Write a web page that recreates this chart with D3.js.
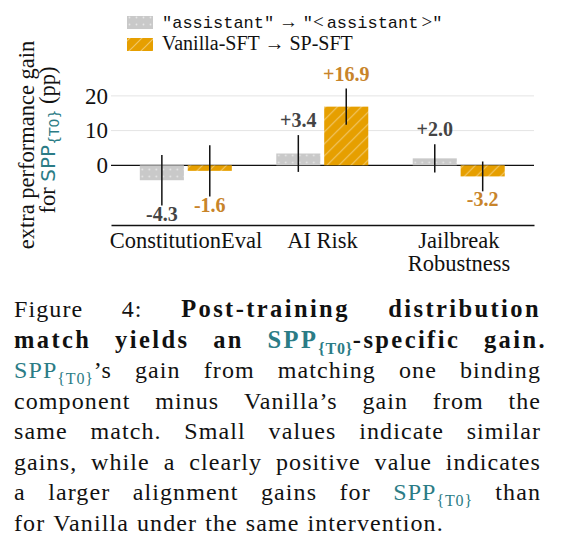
<!DOCTYPE html>
<html>
<head>
<meta charset="utf-8">
<script src="https://cdn.jsdelivr.net/npm/d3@7"></script>
<style>
  body { margin: 0; background: #fff; }
</style>
</head>
<body>
<svg id="chart" width="562" height="544" font-family="Liberation Serif"></svg>
<script>
// chart values
var categories = ["ConstitutionEval", "AI Risk", "Jailbreak Robustness"];
var categoryLines = [["ConstitutionEval"], ["AI Risk"], ["Jailbreak", "Robustness"]];
var seriesKeys = ["template", "sft"];
var templateGain = [-4.3, 3.4, 2.0];
var templateErr = [7.3, 5.3, 4.1];
var sftGain = [-1.6, 16.9, -3.2];
var sftErr = [7.4, 5.2, 4.3];
var yTicks = [0, 10, 20];
var yDomain = [-17.2, 24];

// caption text, "§" marks SPP_{T0}
var captionLines = [
    { words: "Figure 4: Post-training distribution", boldFrom: 2 },
    { words: "match yields an §-specific gain.", boldFrom: 0, right: 547 },
    { words: "§’s gain from matching one binding" },
    { words: "component minus Vanilla’s gain from the" },
    { words: "same match. Small values indicate similar" },
    { words: "gains, while a clearly positive value indicates" },
    { words: "a larger alignment gains for § than" },
    { words: "for Vanilla under the same intervention.", last: true }
];

var serif = "Liberation Serif";
var teal = "#2b7c86";
var grayFill = "#c9c9c9";
var orangeFill = "#e69f00";
var labelColors = { template: "#444444", sft: "#c8842a" };

var svg = d3.select("#chart");

var margin = { top: 82, right: 28, bottom: 319, left: 111 };
var width = 562 - margin.left - margin.right;
var height = 544 - margin.top - margin.bottom;

// patterns
var defs = svg.append("defs");
var dots = defs.append("pattern")
    .attr("id", "dots")
    .attr("patternUnits", "userSpaceOnUse")
    .attr("width", 7).attr("height", 7);
dots.append("rect").attr("width", 7).attr("height", 7).attr("fill", grayFill);
dots.append("circle").attr("cx", 3.5).attr("cy", 3.5).attr("r", 0.9)
    .attr("fill", "#fff").attr("opacity", 0.55);

var hatch = defs.append("pattern")
    .attr("id", "hatch")
    .attr("patternUnits", "userSpaceOnUse")
    .attr("width", 12).attr("height", 12);
hatch.append("rect").attr("width", 12).attr("height", 12).attr("fill", orangeFill);
hatch.append("path")
    .attr("d", "M0,12 L12,0 M-3,3 L3,-3 M9,15 L15,9")
    .attr("stroke", "#fff").attr("stroke-opacity", 0.4).attr("stroke-width", 1.2);

var fills = { template: "url(#dots)", sft: "url(#hatch)" };

// table built from the arrays
var rows = categories.map(function(c, i) {
    return {
        cat: c,
        values: [
            { key: "template", v: templateGain[i], e: templateErr[i] },
            { key: "sft", v: sftGain[i], e: sftErr[i] }
        ]
    };
});

var chartGroup = svg.append("g")
    .attr("transform", `translate(${margin.left}, ${margin.top})`);

// scales
var x0 = d3.scaleBand()
    .domain(categories)
    .range([0, width])
    .paddingInner(0)
    .paddingOuter(0.05);

var x1 = d3.scaleBand()
    .domain(seriesKeys)
    .range([22, 114])
    .paddingInner(0.08);

var yScale = d3.scaleLinear()
    .domain(yDomain)
    .range([height, 0]);

// grid lines
chartGroup.selectAll("line.grid")
    .data(yTicks.filter(function(t) { return t > 0; }))
    .enter()
    .append("line")
    .attr("class", "grid")
    .attr("x1", 0).attr("x2", width)
    .attr("y1", function(d) { return yScale(d); })
    .attr("y2", function(d) { return yScale(d); })
    .attr("stroke", "#e4e4e4")
    .attr("stroke-width", 1);

// zero line
chartGroup.append("line")
    .attr("x1", 0).attr("x2", width)
    .attr("y1", yScale(0)).attr("y2", yScale(0))
    .attr("stroke", "#111")
    .attr("stroke-width", 1.3);

// y axis
var leftAxis = d3.axisLeft(yScale).tickValues(yTicks).tickSize(0).tickPadding(3);
var yAxisG = chartGroup.append("g").call(leftAxis)
    .attr("font-family", serif);
yAxisG.select(".domain").remove();
yAxisG.selectAll("text")
    .attr("font-size", 23)
    .attr("fill", "#111");

// x axis
var bottomAxis = d3.axisBottom(x0).tickSize(0).tickSizeOuter(0);
var xAxisG = chartGroup.append("g")
    .attr("transform", `translate(0, ${height})`)
    .call(bottomAxis)
    .attr("font-family", serif);
xAxisG.select(".domain").attr("stroke", "#111").attr("stroke-width", 1.3);
xAxisG.selectAll(".tick text").each(function(d, i) {
    var t = d3.select(this).attr("y", 0).attr("dy", null)
        .attr("font-size", 22.5)
        .attr("fill", "#111")
        .text(null);
    categoryLines[i].forEach(function(line, j) {
        t.append("tspan").attr("x", 0).attr("y", 23 + j * 23).text(line);
    });
});

// bars
var groups = chartGroup.selectAll("g.group")
    .data(rows)
    .enter()
    .append("g")
    .attr("class", "group")
    .attr("transform", function(d) { return `translate(${x0(d.cat)}, 0)`; });

groups.selectAll("rect")
    .data(function(d) { return d.values; })
    .enter()
    .append("rect")
    .attr("x", function(d) { return x1(d.key); })
    .attr("y", function(d) { return yScale(Math.max(0, d.v)); })
    .attr("width", x1.bandwidth())
    .attr("height", function(d) { return Math.abs(yScale(d.v) - yScale(0)); })
    .attr("fill", function(d) { return fills[d.key]; });

// error bars
groups.selectAll("line.err")
    .data(function(d) { return d.values; })
    .enter()
    .append("line")
    .attr("class", "err")
    .attr("x1", function(d) { return x1(d.key) + x1.bandwidth() / 2; })
    .attr("x2", function(d) { return x1(d.key) + x1.bandwidth() / 2; })
    .attr("y1", function(d) { return yScale(d.v - d.e); })
    .attr("y2", function(d) { return yScale(d.v + d.e); })
    .attr("stroke", "#111")
    .attr("stroke-width", 1.5);

// value labels
function fmt(v) { return (v > 0 ? "+" : "-") + Math.abs(v).toFixed(1); }
groups.selectAll("text.val")
    .data(function(d) { return d.values; })
    .enter()
    .append("text")
    .attr("class", "val")
    .attr("x", function(d) { return x1(d.key) + x1.bandwidth() / 2; })
    .attr("y", function(d) {
        return d.v >= 0 ? yScale(d.v + d.e) - 8 : yScale(d.v - d.e) + 15;
    })
    .attr("text-anchor", "middle")
    .attr("font-family", serif)
    .attr("font-size", 20)
    .attr("font-weight", "bold")
    .attr("fill", function(d) { return labelColors[d.key]; })
    .text(function(d) { return fmt(d.v); });

// y axis title
svg.append("text")
    .attr("transform", "translate(34, 145) rotate(-90)")
    .attr("text-anchor", "middle")
    .attr("font-family", serif)
    .attr("font-size", 22.5)
    .attr("fill", "#111")
    .text("extra performance gain");

var yTitle2 = svg.append("text")
    .attr("transform", "translate(55, 140) rotate(-90)")
    .attr("text-anchor", "middle")
    .attr("font-family", serif)
    .attr("font-size", 22.5)
    .attr("fill", "#111");
yTitle2.append("tspan").text("for ");
yTitle2.append("tspan").attr("fill", teal).attr("font-family", "DejaVu Sans").attr("font-size", 20).text("SPP");
yTitle2.append("tspan").attr("fill", teal).attr("font-family", "DejaVu Sans").attr("font-size", 14).attr("dy", 4).text("{T0}");
yTitle2.append("tspan").attr("dy", -4).text(" (pp)");

// legend
var legend = svg.append("g").attr("font-family", serif);
legend.append("rect").attr("x", 127).attr("y", 16).attr("width", 26).attr("height", 13).attr("fill", "url(#dots)");
legend.append("rect").attr("x", 127).attr("y", 38).attr("width", 26).attr("height", 13).attr("fill", "url(#hatch)");

var leg1 = legend.append("text").attr("x", 162).attr("y", 28).attr("font-size", 17).attr("fill", "#111");
leg1.append("tspan").attr("font-family", "Liberation Mono").text("\"assistant\"");
leg1.append("tspan").attr("font-size", 19).text(" → ");
leg1.append("tspan").attr("font-family", "Liberation Mono").text("\"");
leg1.append("tspan").attr("font-size", 19).text("<");
leg1.append("tspan").attr("font-family", "Liberation Mono").attr("dx", 3).text("assistant");
leg1.append("tspan").attr("font-size", 19).attr("dx", 3).text(">");
leg1.append("tspan").attr("font-family", "Liberation Mono").text("\"");

legend.append("text").attr("x", 162).attr("y", 50).attr("font-size", 20).attr("fill", "#111")
    .text("Vanilla-SFT  →  SP-SFT");

// caption, justified
var capLeft = 14, capRight = 541, capTop = 317, capStep = 30.5;
var caption = svg.append("g").attr("font-family", serif);

function addWord(parent, word, bold) {
    var t = parent.append("text")
        .attr("font-size", bold ? 24.5 : 24)
        .attr("letter-spacing", bold ? 2.4 : 1.1)
        .attr("fill", "#111")
        .attr("font-weight", bold ? "bold" : "normal");
    var parts = word.split("§");
    parts.forEach(function(p, i) {
        if (i > 0) {
            t.append("tspan").attr("fill", teal).text("SPP");
            t.append("tspan").attr("fill", teal).attr("font-size", 16).attr("letter-spacing", 0.8)
                .attr("dy", 6).text("{T0}");
        }
        if (p) t.append("tspan").attr("dy", i > 0 ? -6 : null).text(p);
    });
    return t;
}

captionLines.forEach(function(line, li) {
    var words = line.words.split(" ");
    var y = capTop + li * capStep;
    var nodes = words.map(function(w, wi) {
        var bold = line.boldFrom !== undefined && wi >= line.boldFrom;
        return addWord(caption, w, bold).attr("y", y);
    });
    var widths = nodes.map(function(n) { return n.node().getComputedTextLength(); });
    var total = d3.sum(widths);
    var right = line.right || capRight;
    var gap = line.last ? 8 : (right - capLeft - total) / (words.length - 1);
    var xPos = capLeft;
    nodes.forEach(function(n, i) {
        n.attr("x", xPos);
        xPos += widths[i] + gap;
    });
});
</script>
</body>
</html>
